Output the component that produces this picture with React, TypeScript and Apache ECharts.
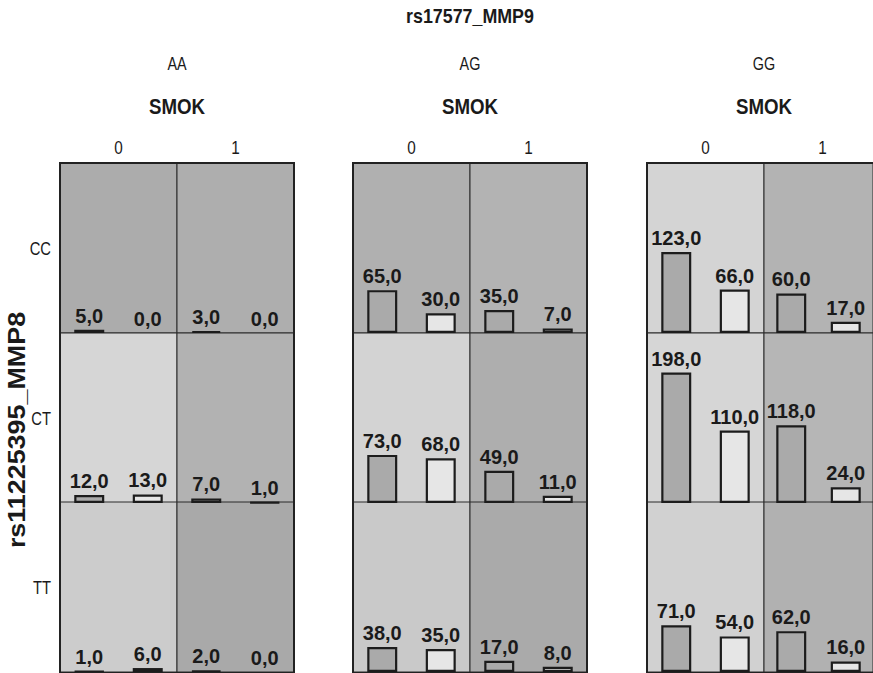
import React, { useEffect, useRef } from "react";
import * as echarts from "echarts";

// ---- Data ----
const title = "rs17577_MMP9";
const rowTitle = "rs11225395_MMP8";
const panels = ["AA", "AG", "GG"]; // rs17577_MMP9 genotype
const smokLevels = ["0", "1"]; // SMOK
const rowsCat = ["CC", "CT", "TT"]; // rs11225395_MMP8 genotype
const barCats = ["a", "b"];

// values[panel][row][smok] = [bar1, bar2]
const valuesAA = [
  [[5, 0], [3, 0]],
  [[12, 13], [7, 1]],
  [[1, 6], [2, 0]],
];
const valuesAG = [
  [[65, 30], [35, 7]],
  [[73, 68], [49, 11]],
  [[38, 35], [17, 8]],
];
const valuesGG = [
  [[123, 66], [60, 17]],
  [[198, 110], [118, 24]],
  [[71, 54], [62, 16]],
];
const allValues = [valuesAA, valuesAG, valuesGG];

// cell background shades [panel][row][smok]
const cellBg = [
  [["#acacac", "#aeaeae"], ["#d6d6d6", "#b2b2b2"], ["#cccccc", "#a9a9a9"]],
  [["#b0b0b0", "#b3b3b3"], ["#d3d3d3", "#aeaeae"], ["#c9c9c9", "#aaaaaa"]],
  [["#d4d4d4", "#b3b3b3"], ["#d6d6d6", "#b6b6b6"], ["#d1d1d1", "#b1b1b1"]],
];

// ---- Layout ----
const panelLeft = [60, 353, 647];
const cellW = 117;
const rowTop = [163, 333, 502];
const rowH = 170;
const yMax = 258;

const FONT = "'Liberation Sans', Arial, sans-serif";
const barColors = ["#aaaaaa", "#e6e6e6"];

function fmt(v: number) {
  return v.toFixed(1).replace(".", ",");
}

function txt(
  text: string,
  x: number,
  y: number,
  size: number,
  bold: boolean,
  sx: number,
  extra: any = {}
) {
  return {
    type: "text",
    x,
    y,
    scaleX: sx,
    z: 50,
    ...extra,
    style: {
      text,
      fontFamily: FONT,
      fontWeight: bold ? "bold" : "normal",
      fontSize: size,
      fill: "#1a1a1a",
      align: extra.align || "center",
      verticalAlign: "middle",
    },
  };
}

export default function App() {
  const ref = useRef<HTMLDivElement>(null);
  useEffect(() => {
    document.body.style.margin = "0";
    if (!ref.current) return;
    const chart = echarts.init(ref.current, undefined, { renderer: "svg" });
    const grid: any[] = [];
    const xAxis: any[] = [];
    const yAxis: any[] = [];
    const series: any[] = [];
    let gi = 0;
    panels.forEach((_, p) => {
      rowsCat.forEach((__, r) => {
        smokLevels.forEach((___, s) => {
          grid.push({
            left: panelLeft[p] + s * cellW,
            top: rowTop[r],
            width: cellW,
            height: rowH,
            show: true,
            backgroundColor: cellBg[p][r][s],
            borderColor: "#2a2a2a",
            borderWidth: 1,
          });
          xAxis.push({ type: "category", gridIndex: gi, data: barCats, show: false });
          yAxis.push({ type: "value", gridIndex: gi, min: 0, max: yMax, show: false });
          const vals = allValues[p][r][s];
          series.push({
            type: "bar",
            xAxisIndex: gi,
            yAxisIndex: gi,
            barWidth: 30,
            data: vals.map((v, k) => ({
              value: v,
              itemStyle: {
                color: barColors[k],
                borderColor: "#1c1c1c",
                borderWidth: v === 0 ? 0 : 2.2,
              },
            })),
            label: {
              show: true,
              position: "top",
              distance: 4,
              formatter: (d: any) => fmt(d.value),
              fontFamily: FONT,
              fontWeight: "bold",
              fontSize: 20,
              color: "#1a1a1a",
            },
          });
          gi++;
        });
      });
    });

    const graphic: any[] = [];
    graphic.push(txt(title, 470, 15, 21, true, 0.85));
    panels.forEach((name, p) => {
      const cx = panelLeft[p] + cellW;
      graphic.push(txt(name, cx, 63, 18, false, 0.8));
      graphic.push(txt("SMOK", cx, 106, 22, true, 0.85));
      smokLevels.forEach((lv, s) => {
        graphic.push(txt(lv, panelLeft[p] + s * cellW + cellW / 2, 148, 18, false, 0.85));
      });
      graphic.push({
        type: "rect",
        shape: { x: panelLeft[p], y: rowTop[0], width: cellW * 2, height: rowH * 3 },
        style: { fill: "none", stroke: "#222", lineWidth: 2 },
        z: 100,
      });
    });
    rowsCat.forEach((name, r) => {
      graphic.push(txt(name, 51, rowTop[r] + rowH / 2, 18, false, 0.82, { align: "right" }));
    });
    graphic.push(
      txt(rowTitle, 17, 430, 23, true, 1.17, { rotation: Math.PI / 2 })
    );

    chart.setOption({
      animation: false,
      backgroundColor: "#ffffff",
      grid,
      xAxis,
      yAxis,
      series,
      graphic,
    });
    return () => chart.dispose();
  }, []);
  return <div ref={ref} style={{ width: 873, height: 673 }} />;
}
